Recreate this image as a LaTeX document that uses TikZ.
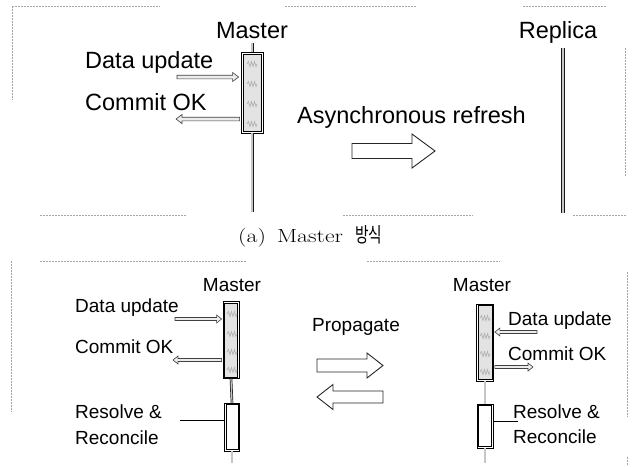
\documentclass[tikz,border=0pt]{standalone}
\usepackage{fontspec}
\setsansfont{Liberation Sans}
\newfontfamily\krfont{Noto Sans CJK KR}
\usetikzlibrary{calc}
\newcommand{\hollowarr}[6][]{%
  \draw[#1] ($(#2)+(0,-#4)$) -- ($(#3)+(#6,-#4)$) -- ($(#3)+(#6,-#5)$) -- (#3)
    -- ($(#3)+(#6,#5)$) -- ($(#3)+(#6,#4)$) -- ($(#2)+(0,#4)$) -- cycle;}
\newcommand{\scribble}[2]{%
  \draw[gray!60, line width=0.7pt] (#1-5,#2) -- ++(1.5,-2.5) -- ++(1.5,5) -- ++(1.5,-5) -- ++(1.5,5) -- ++(1.5,-5) -- ++(1.5,5) -- ++(1,-2.5);}
\begin{document}
\begin{tikzpicture}[x=1pt,y=-1pt,
  lbl/.style={font=\sffamily\fontsize{23.5}{26}\selectfont, inner sep=0pt},
  lbls/.style={font=\sffamily\fontsize{19}{21}\selectfont, inner sep=0pt},
  frameline/.style={gray!70, line width=0.6pt, dash pattern=on 1.5pt off 1.5pt},
  mbox/.style={draw, line width=0.8pt, inner sep=0pt, fill=white},
  rod/.style={draw=black!90, line width=0.7pt, double=gray!45, double distance=1.6pt},
  harrow/.style={draw=black!75, line width=0.6pt, fill=gray!15, line join=miter},
  bigarrow/.style={draw=black!85, line width=0.9pt, fill=white, line join=miter},
  link/.style={draw, line width=0.7pt}
]
\useasboundingbox (0,0) rectangle (636,466);

% ---------- frames ----------
\draw[frameline] (12,6) -- (160,6);
\draw[frameline] (285,6) -- (417,6);
\draw[frameline] (523,6) -- (607,6);
\draw[frameline] (12,6) -- (12,100);
\draw[frameline] (625,48) -- (625,177);
\draw[frameline] (40,215) -- (187,215);
\draw[frameline] (343,215) -- (473,215);
\draw[frameline] (573,215) -- (627,215);
\draw[frameline] (40,261) -- (247,261);
\draw[frameline] (367,261) -- (500,261);
\draw[frameline] (11,261) -- (11,412);
\draw[frameline] (627,272) -- (627,417);
\draw[frameline] (627,457) -- (627,466);

% ---------- top panel ----------
\node[lbl, anchor=base] (tmaster) at (252,38) {Master};
\node[lbl, anchor=base] (treplica) at (558,38) {Replica};
\node[lbl, anchor=base west] (tdu) at (85,68) {Data update};
\node[lbl, anchor=base west] (tco) at (85,110) {Commit OK};
\node[lbl, anchor=base west] (tasync) at (297,123) {Asynchronous refresh};

\coordinate (m1top) at (252,43);
\coordinate (m1bot) at (252,212);
\node[mbox, minimum width=22pt, minimum height=81pt] (m1) at (252,92.5) {};
\draw[rod] (m1top) -- (m1.north);
\draw[rod] (m1.south) -- (m1bot);
\fill[gray!22] ($(m1.north west)+(2.5,2.5)$) rectangle ($(m1.south east)+(-2.5,-2.5)$);
\draw[line width=0.4pt] ($(m1.north west)+(2.5,2.5)$) rectangle ($(m1.south east)+(-2.5,-2.5)$);
\scribble{252}{64}\scribble{252}{84}\scribble{252}{104}\scribble{252}{124}

\coordinate (rtop) at (563,48);
\coordinate (rbot) at (563,213);
\draw[rod, double distance=2pt] (rtop) -- (rbot);

\coordinate (du1t) at (177,77);
\coordinate (du1h) at ($(m1.west |- du1t)+(-2,0)$);
\hollowarr[harrow]{du1t}{du1h}{1.8}{4.5}{-6}
\coordinate (co1t) at ($(m1.west |- 0,119)+(-1,0)$);
\coordinate (co1h) at (176,119);
\hollowarr[harrow]{co1t}{co1h}{1.8}{4.5}{6}

\coordinate (a1t) at (352,151);
\coordinate (a1h) at (435,151);
\hollowarr[bigarrow]{a1t}{a1h}{7.5}{17}{-23}

% ---------- caption ----------
\node[anchor=base west, inner sep=0pt, font=\fontsize{19}{22}\selectfont] (cap) at (238,242)
  {\scalebox{1.25}[1]{(a)\, Master}\hspace{12pt}\scalebox{0.72}[1]{\fontsize{20.5}{24}\selectfont\krfont 방식}};

% ---------- bottom left ----------
\node[lbls, anchor=base] (lmaster) at (232,291) {Master};
\node[lbls, anchor=base west] (ldu) at (75,312) {Data update};
\node[lbls, anchor=base west] (lco) at (75,353) {Commit OK};
\node[lbls, anchor=base west] (lrs) at (75,418) {Resolve \&};
\node[lbls, anchor=base west] (lrc) at (75,444) {Reconcile};

\node[mbox, minimum width=16pt, minimum height=77pt] (m2) at (231,340) {};
\node[mbox, minimum width=15pt, minimum height=48pt] (r2) at (232,427) {};
\coordinate (r2bot) at (232,463);
\draw[rod, double distance=1.2pt] (m2.south) -- (r2.north);
\draw[rod, double distance=1.2pt] (r2.south) -- (r2bot);
\fill[gray!22] ($(m2.north west)+(2,2)$) rectangle ($(m2.south east)+(-2,-2)$);
\draw[line width=0.4pt] ($(m2.north west)+(2,2)$) rectangle ($(m2.south east)+(-2,-2)$);
\scribble{232}{314}\scribble{232}{334}\scribble{232}{352}\scribble{232}{370}
\draw[line width=0.4pt] ($(r2.north west)+(2,2)$) rectangle ($(r2.south east)+(-2,-2)$);

\coordinate (du2t) at (175,319);
\coordinate (du2h) at ($(m2.west |- du2t)+(-1,0)$);
\hollowarr[harrow]{du2t}{du2h}{1.5}{4}{-5}
\coordinate (co2t) at ($(m2.west |- 0,360)+(-1,0)$);
\coordinate (co2h) at (173,360);
\hollowarr[harrow]{co2t}{co2h}{1.5}{4}{5}
\coordinate (rs2) at (180,420);
\draw[link] (rs2) -- (r2.west |- rs2);

% ---------- middle ----------
\node[lbls, anchor=base] (prop) at (356,331) {Propagate};
\coordinate (p1t) at (317,365.5);
\coordinate (p1h) at (383,365.5);
\hollowarr[bigarrow]{p1t}{p1h}{6.5}{12.5}{-16}
\coordinate (p2t) at (383,397);
\coordinate (p2h) at (317,397);
\hollowarr[bigarrow]{p2t}{p2h}{6}{12.5}{16}

% ---------- bottom right ----------
\node[lbls, anchor=base] (rmaster) at (482,291) {Master};
\node[lbls, anchor=base west] (rdu) at (508,325) {Data update};
\node[lbls, anchor=base west] (rco) at (508,360) {Commit OK};
\node[lbls, anchor=base west] (rrs) at (513,418) {Resolve \&};
\node[lbls, anchor=base west] (rrc) at (513,443) {Reconcile};

\node[mbox, minimum width=17pt, minimum height=77pt] (m3) at (485,342.5) {};
\node[mbox, minimum width=16pt, minimum height=44pt] (r3) at (485,426) {};
\coordinate (r3bot) at (485,463);
\draw[rod, double distance=1.2pt] (m3.south) -- (r3.north);
\draw[rod, double distance=1.2pt] (r3.south) -- (r3bot);
\fill[gray!22] ($(m3.north west)+(2,2)$) rectangle ($(m3.south east)+(-2,-2)$);
\draw[line width=0.4pt] ($(m3.north west)+(2,2)$) rectangle ($(m3.south east)+(-2,-2)$);
\scribble{485}{318}\scribble{485}{336}\scribble{485}{354}\scribble{485}{372}
\draw[line width=0.4pt] ($(r3.north west)+(2,2)$) rectangle ($(r3.south east)+(-2,-2)$);

\coordinate (du3t) at (537,332);
\coordinate (du3h) at ($(m3.east |- du3t)+(1,0)$);
\hollowarr[harrow]{du3t}{du3h}{1.5}{4}{5}
\coordinate (co3t) at ($(m3.east |- 0,367)+(1,0)$);
\coordinate (co3h) at (533,367);
\hollowarr[harrow]{co3t}{co3h}{1.5}{4}{-5}
\coordinate (rs3) at (518,421);
\draw[link] (r3.east |- rs3) -- (rs3);
\end{tikzpicture}
\end{document}
